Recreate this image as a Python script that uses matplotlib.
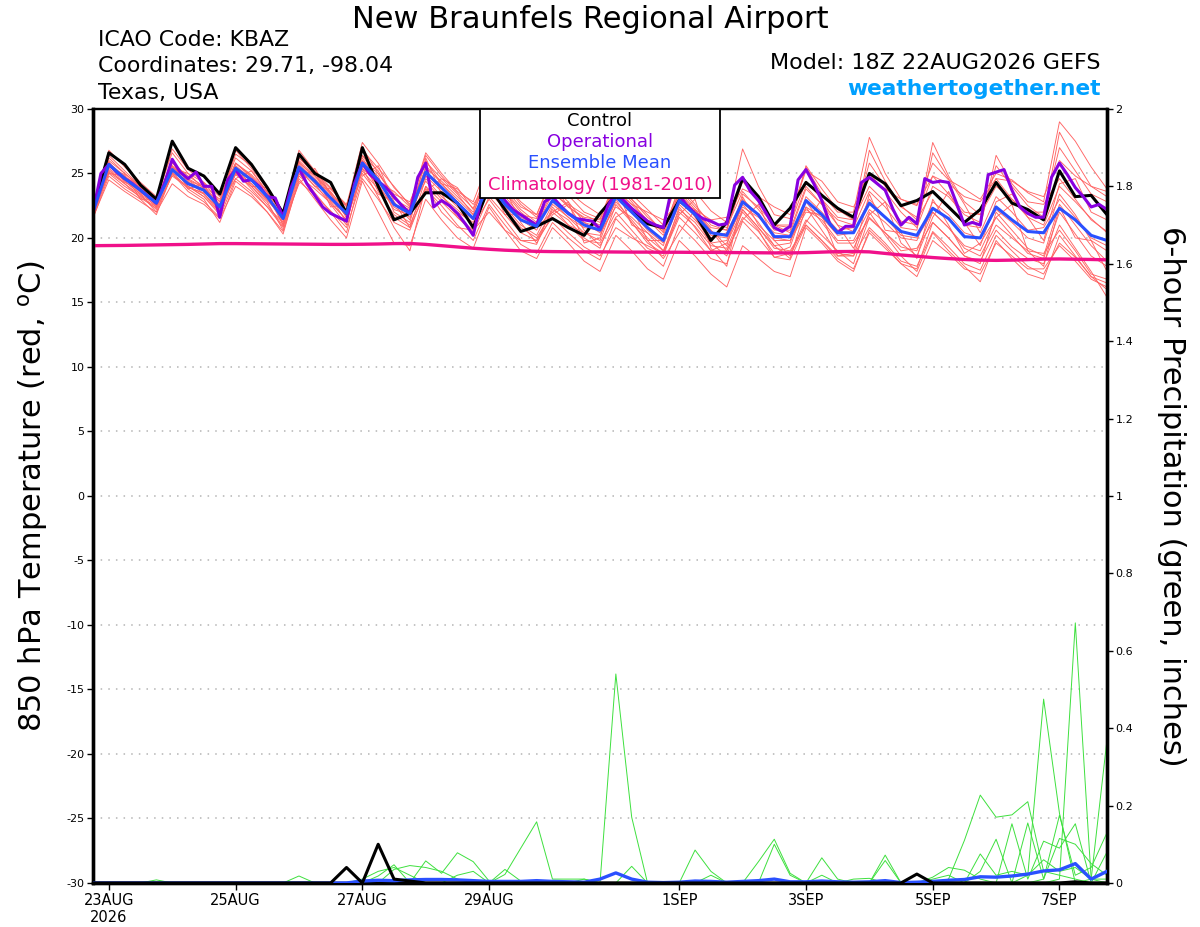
import numpy as np
import matplotlib
matplotlib.use("Agg")
import matplotlib.pyplot as plt
from matplotlib.patches import Rectangle

plt.rcParams['font.family'] = ['DejaVu Sans']
plt.rcParams['axes.unicode_minus'] = False

# 6-hourly times, 18Z 22AUG2026 -> 18Z 7SEP2026
t0 = np.datetime64('2026-08-22T18:00')
times = t0 + np.arange(65) * np.timedelta64(6, 'h')
times_op = t0 + np.arange(129) * np.timedelta64(3, 'h')

tick_dates = ['2026-08-23', '2026-08-25', '2026-08-27', '2026-08-29',
              '2026-09-01', '2026-09-03', '2026-09-05', '2026-09-07']
tick_labels = ['23AUG\n2026', '25AUG', '27AUG', '29AUG', '1SEP', '3SEP', '5SEP', '7SEP']

# 850 hPa temperature (C)
control_t = [22.2, 26.6, 25.7, 24.1, 23.0, 27.5, 25.4, 24.8, 23.4, 27.0, 25.7, 23.9,
             21.9, 26.5, 25.0, 24.3, 21.9, 27.0, 24.0, 21.4, 21.9, 23.5, 23.5, 22.7,
             20.8, 24.0, 22.2, 20.5, 20.9, 21.5, 20.8, 20.2, 21.9, 23.3, 22.2, 21.1,
             20.8, 22.9, 21.9, 19.8, 21.2, 24.6, 23.2, 21.0, 22.3, 24.3, 23.3, 22.3,
             21.6, 25.0, 24.2, 22.5, 22.9, 23.6, 22.4, 21.2, 22.2, 24.3, 22.7, 22.2,
             21.4, 25.2, 23.2, 23.3, 21.8]

mean_t = [22.0, 25.7, 24.6, 23.7, 22.7, 25.3, 24.2, 23.7, 22.4, 25.4, 24.5, 23.2,
          21.5, 25.5, 24.4, 23.1, 21.9, 25.8, 24.5, 22.6, 21.9, 25.1, 23.9, 22.7,
          21.5, 24.2, 22.6, 21.4, 20.9, 22.9, 21.9, 21.0, 20.6, 23.2, 22.0, 20.8,
          19.8, 22.9, 21.8, 20.4, 20.2, 22.8, 21.8, 20.1, 20.1, 22.9, 21.8, 20.4,
          20.4, 22.7, 21.6, 20.5, 20.2, 22.3, 21.5, 20.1, 20.0, 22.4, 21.4, 20.5,
          20.4, 22.3, 21.4, 20.2, 19.8]

oper_t = [22.0, 25.0, 25.7, 25.1, 24.6, 24.2, 23.7, 23.2,
          22.7, 24.2, 26.1, 25.1, 24.6, 25.1, 24.0, 24.0,
          21.6, 24.5, 25.3, 24.4, 24.5, 24.0, 23.2, 23.1,
          21.6, 23.9, 25.4, 24.2, 23.3, 22.4, 21.9, 21.6,
          21.3, 24.2, 25.8, 24.9, 24.4, 23.9, 23.2, 22.5,
          21.9, 24.7, 25.8, 22.4, 22.9, 22.5, 21.9, 21.1,
          20.2, 23.0, 24.8, 23.8, 22.9, 22.2, 21.8, 21.4,
          21.0, 22.8, 23.2, 22.5, 21.9, 21.5, 21.4, 21.3,
          20.7, 22.5, 23.5, 22.9, 22.3, 21.8, 21.3, 21.0,
          20.8, 23.7, 23.3, 22.5, 21.9, 21.5, 21.3, 21.0,
          21.1, 24.1, 24.7, 23.6, 22.9, 21.9, 20.8, 20.5,
          20.9, 24.5, 25.3, 24.2, 22.9, 21.1, 20.4, 20.9,
          20.9, 24.3, 24.7, 24.2, 23.7, 22.2, 21.0, 21.6,
          21.1, 24.6, 24.3, 24.4, 24.3, 22.7, 21.0, 21.2,
          21.0, 24.9, 25.1, 25.3, 23.7, 22.4, 21.9, 21.6,
          21.6, 24.7, 25.8, 24.9, 23.9, 23.2, 22.4, 22.6,
          22.2]

clim_t = [19.40, 19.41, 19.42, 19.44, 19.46, 19.48, 19.50, 19.53, 19.56, 19.56, 19.55,
          19.54, 19.53, 19.52, 19.51, 19.50, 19.50, 19.51, 19.53, 19.56, 19.57, 19.50,
          19.40, 19.30, 19.20, 19.12, 19.05, 19.00, 18.96, 18.94, 18.93, 18.92, 18.92,
          18.91, 18.90, 18.90, 18.89, 18.89, 18.88, 18.88, 18.87, 18.86, 18.85, 18.84,
          18.84, 18.86, 18.90, 18.94, 18.95, 18.92, 18.80, 18.68, 18.58, 18.48, 18.40,
          18.33, 18.28, 18.26, 18.28, 18.32, 18.36, 18.37, 18.35, 18.33, 18.30]

members_t = [
    [22.3, 26.8, 25.5, 24.3, 23.2, 26.6, 25.0, 24.3, 22.8, 26.5, 25.6, 24.0, 22.0, 26.2, 25.0, 23.8,
     22.5, 27.4, 25.8, 23.9, 22.6, 26.4, 24.8, 23.5, 22.3, 25.6, 24.2, 22.8, 21.8, 24.8, 23.3, 22.0,
     21.5, 24.6, 23.4, 22.2, 21.0, 25.0, 23.6, 22.1, 21.2, 26.9, 24.0, 21.8, 21.5, 25.5, 23.4, 22.0,
     22.0, 27.8, 25.0, 23.0, 22.5, 25.8, 24.5, 23.8, 23.0, 25.0, 24.5, 23.5, 22.8, 29.0, 27.5, 25.5, 23.8],
    [21.6, 24.5, 23.6, 22.8, 22.0, 24.2, 23.2, 22.6, 21.5, 24.0, 23.2, 22.0, 20.5, 24.4, 23.3, 22.1,
     20.8, 24.6, 23.0, 21.2, 20.6, 23.8, 22.5, 21.0, 19.8, 22.6, 21.0, 19.5, 18.8, 21.2, 20.0, 19.0,
     18.3, 21.5, 20.2, 18.9, 17.8, 21.0, 19.8, 18.4, 18.0, 21.3, 20.0, 18.5, 18.3, 21.0, 19.8, 18.6,
     18.6, 20.8, 19.6, 18.2, 17.8, 20.5, 19.3, 18.0, 17.5, 20.2, 19.0, 17.8, 17.2, 19.6, 18.5, 17.0, 16.5],
    [22.0, 25.2, 24.3, 23.8, 22.9, 25.6, 24.0, 23.2, 22.0, 25.8, 24.9, 23.6, 21.8, 26.8, 25.2, 23.9,
     22.4, 26.0, 25.0, 23.4, 22.8, 25.9, 24.6, 23.9, 22.2, 25.0, 23.5, 22.0, 21.0, 23.4, 22.6, 21.8,
     21.2, 24.2, 22.8, 21.3, 20.5, 23.5, 22.0, 20.6, 19.4, 23.4, 22.4, 21.0, 20.8, 25.6, 23.8, 22.2,
     21.4, 24.0, 22.8, 21.3, 21.0, 27.4, 24.8, 22.8, 21.8, 24.6, 23.0, 21.6, 21.0, 24.0, 22.8, 21.5, 20.4],
    [21.8, 25.0, 24.0, 23.2, 22.4, 24.8, 23.9, 23.5, 22.6, 24.9, 24.0, 22.8, 20.6, 24.8, 23.8, 22.7,
     21.4, 25.2, 23.8, 21.6, 20.8, 24.6, 23.2, 22.2, 21.0, 23.0, 21.4, 19.8, 19.8, 21.6, 20.4, 19.3,
     18.6, 20.8, 20.0, 19.4, 18.8, 22.4, 20.8, 19.0, 19.0, 21.6, 20.5, 18.8, 19.3, 22.8, 21.2, 19.6,
     19.6, 21.5, 20.4, 19.0, 19.2, 21.2, 20.0, 18.6, 18.2, 20.6, 19.3, 18.4, 18.0, 21.0, 19.2, 17.4, 15.4],
    [22.1, 26.0, 25.0, 23.9, 22.6, 25.8, 24.8, 24.0, 23.0, 26.2, 25.2, 23.5, 21.2, 25.8, 24.8, 23.6,
     22.0, 26.4, 25.2, 23.0, 22.3, 25.4, 24.4, 23.2, 22.0, 24.8, 23.2, 21.8, 21.5, 24.2, 22.4, 21.5,
     21.0, 23.8, 22.6, 21.4, 20.2, 23.6, 22.2, 20.8, 20.6, 24.5, 22.8, 21.0, 20.4, 23.8, 22.6, 21.4,
     21.0, 25.0, 23.6, 22.0, 20.8, 24.0, 23.2, 21.8, 21.2, 25.6, 24.0, 22.5, 21.6, 28.2, 26.0, 24.0, 23.2],
    [21.5, 24.8, 23.8, 23.0, 21.8, 25.0, 23.6, 22.8, 21.6, 24.6, 23.6, 22.4, 20.8, 25.0, 23.5, 22.0,
     20.4, 25.4, 23.2, 20.8, 19.0, 24.0, 22.0, 20.8, 20.6, 22.0, 20.6, 19.8, 19.5, 22.4, 21.0, 19.8,
     19.6, 22.0, 20.6, 19.2, 18.6, 22.0, 20.9, 19.4, 19.2, 22.0, 20.6, 18.5, 18.8, 21.4, 20.2, 19.0,
     18.0, 21.6, 20.4, 19.3, 19.0, 22.0, 20.8, 19.4, 19.0, 21.6, 20.2, 18.8, 18.4, 22.0, 20.3, 18.6, 17.8],
    [22.4, 26.4, 25.2, 24.0, 22.8, 26.9, 25.3, 24.3, 23.2, 25.8, 24.8, 23.4, 22.0, 26.2, 25.0, 23.5,
     22.2, 26.8, 25.4, 24.0, 22.5, 26.6, 25.0, 23.6, 22.8, 26.0, 24.2, 22.6, 21.6, 23.9, 22.8, 21.2,
     20.8, 24.8, 23.0, 21.6, 20.6, 23.8, 22.4, 21.2, 20.8, 23.6, 22.2, 20.6, 20.6, 24.0, 22.6, 21.0,
     20.5, 26.8, 24.4, 22.5, 21.4, 23.6, 22.5, 21.0, 20.8, 26.4, 24.2, 22.8, 22.6, 24.6, 23.0, 21.4, 20.5],
    [21.9, 25.4, 24.4, 23.4, 22.5, 25.2, 24.3, 23.8, 22.2, 25.0, 24.2, 23.0, 21.4, 25.3, 24.0, 22.9,
     21.8, 25.6, 24.0, 22.4, 21.6, 24.8, 23.6, 22.4, 21.4, 23.6, 22.2, 20.8, 20.0, 22.0, 21.0, 20.4,
     19.8, 23.0, 21.2, 19.6, 18.8, 21.6, 20.4, 19.0, 19.6, 22.2, 20.8, 19.2, 19.0, 21.0, 19.8, 18.4,
     17.6, 20.4, 19.2, 18.0, 17.0, 19.8, 18.8, 17.6, 17.2, 19.6, 18.6, 17.6, 17.6, 19.4, 18.2, 16.8, 16.2],
    [22.2, 25.8, 24.8, 23.6, 22.4, 25.5, 24.5, 23.6, 22.3, 25.6, 24.6, 23.3, 21.0, 25.2, 24.6, 23.4,
     21.6, 25.8, 24.8, 22.0, 21.2, 25.6, 24.2, 22.8, 21.6, 24.6, 22.8, 21.4, 20.6, 23.0, 22.0, 21.2,
     20.4, 22.4, 21.6, 20.4, 19.4, 23.2, 22.0, 20.2, 20.0, 22.4, 21.6, 20.4, 20.2, 22.2, 21.4, 19.8,
     19.8, 22.2, 21.2, 20.0, 19.8, 22.8, 21.8, 20.4, 20.0, 22.2, 21.2, 20.0, 19.6, 23.4, 21.8, 19.8, 19.0],
    [21.7, 25.6, 24.6, 23.5, 22.7, 25.4, 24.0, 23.4, 22.0, 25.2, 24.2, 22.9, 21.6, 25.7, 24.5, 23.2,
     21.2, 25.4, 24.2, 22.2, 21.8, 25.0, 23.8, 22.6, 20.8, 23.8, 22.4, 21.0, 20.2, 22.6, 21.6, 20.8,
     20.6, 23.4, 22.0, 20.6, 19.6, 22.6, 21.4, 20.0, 20.4, 23.0, 21.8, 20.0, 19.8, 22.4, 21.6, 20.2,
     20.4, 23.0, 21.6, 20.2, 20.0, 22.0, 20.8, 19.2, 18.6, 21.0, 20.0, 19.0, 18.8, 20.6, 19.0, 17.2, 16.8],
    [22.0, 26.2, 25.0, 24.0, 22.5, 26.0, 24.6, 23.9, 22.6, 26.8, 25.4, 23.8, 21.4, 26.0, 24.8, 23.4,
     22.0, 27.0, 25.0, 23.2, 22.0, 26.0, 24.2, 23.0, 21.8, 25.4, 23.6, 22.2, 21.2, 23.6, 22.4, 21.6,
     21.4, 24.4, 23.0, 21.8, 20.4, 24.0, 22.6, 21.0, 20.6, 24.4, 22.8, 21.0, 21.0, 24.4, 23.0, 21.6,
     21.4, 25.8, 24.0, 22.4, 21.6, 24.8, 23.4, 22.0, 21.8, 24.0, 23.0, 22.0, 22.0, 27.0, 25.2, 23.4, 22.8],
    [21.8, 25.3, 24.2, 23.3, 22.2, 24.9, 24.0, 23.2, 21.8, 25.0, 24.0, 22.6, 20.9, 25.6, 24.2, 22.6,
     21.0, 26.4, 24.6, 22.6, 22.2, 24.4, 23.0, 22.0, 21.2, 24.0, 22.6, 21.6, 21.0, 22.8, 21.6, 20.4,
     20.2, 22.8, 21.4, 20.0, 19.0, 22.2, 21.2, 19.6, 19.8, 22.6, 21.2, 19.4, 19.6, 23.2, 22.0, 20.6,
     20.8, 23.6, 22.4, 20.8, 20.6, 26.6, 24.6, 22.6, 20.4, 23.2, 22.0, 20.6, 20.8, 23.0, 21.6, 20.0, 19.4],
    [22.5, 25.9, 24.4, 23.4, 22.0, 25.1, 23.8, 23.0, 21.2, 24.4, 23.4, 22.0, 20.3, 24.6, 23.0, 21.4,
     20.0, 24.4, 22.0, 19.6, 19.4, 23.0, 21.4, 20.0, 19.2, 22.4, 20.6, 19.0, 18.4, 20.8, 19.6, 18.2,
     17.4, 20.2, 19.0, 17.6, 16.8, 19.8, 18.6, 17.2, 16.2, 19.4, 18.4, 17.4, 17.0, 20.8, 19.6, 18.2,
     17.4, 20.6, 19.4, 18.0, 17.6, 21.2, 20.0, 18.6, 18.0, 22.0, 20.6, 19.2, 18.6, 22.6, 21.0, 19.4, 18.2],
    [22.3, 25.0, 24.8, 23.9, 22.9, 25.4, 25.0, 23.8, 22.5, 24.6, 25.2, 23.6, 21.0, 24.2, 25.4, 23.4,
     21.6, 24.8, 25.6, 22.8, 20.8, 23.6, 24.6, 23.4, 21.8, 23.4, 23.8, 21.2, 19.6, 21.8, 22.6, 20.6,
     19.4, 21.6, 22.4, 19.8, 18.4, 20.4, 22.2, 20.6, 19.0, 21.4, 22.6, 19.8, 18.6, 21.2, 23.0, 21.0,
     19.2, 21.8, 22.8, 19.6, 18.6, 21.6, 23.6, 21.2, 19.4, 22.8, 23.4, 21.6, 19.8, 24.2, 24.6, 22.0, 21.4],
    [21.9, 25.5, 24.9, 23.0, 23.0, 25.9, 23.8, 24.2, 21.8, 25.6, 24.0, 23.9, 21.6, 24.9, 25.2, 22.4,
     22.6, 25.0, 23.4, 22.8, 21.4, 26.2, 23.4, 21.6, 20.6, 24.4, 21.8, 21.8, 20.8, 22.0, 22.8, 19.6,
     20.0, 24.0, 21.0, 20.4, 19.0, 21.8, 23.0, 19.2, 17.8, 23.2, 21.0, 19.8, 19.8, 22.0, 21.8, 18.6,
     18.8, 23.4, 20.6, 20.4, 18.4, 23.0, 21.0, 18.8, 19.6, 21.6, 22.6, 19.0, 17.8, 22.4, 20.0, 19.8, 17.4],
    [22.1, 25.6, 24.7, 24.1, 22.6, 25.0, 24.5, 23.9, 22.8, 25.8, 24.7, 23.1, 21.9, 25.4, 24.0, 23.8,
     22.6, 26.2, 24.3, 23.6, 22.4, 24.8, 24.2, 23.8, 22.6, 24.4, 23.8, 22.4, 21.8, 24.6, 23.6, 22.6,
     21.8, 23.6, 22.6, 22.0, 21.4, 22.8, 22.2, 21.4, 21.6, 23.8, 23.2, 22.4, 21.8, 25.2, 24.4, 22.8,
     22.4, 24.6, 23.8, 23.0, 22.6, 24.8, 24.2, 23.2, 22.8, 24.6, 24.4, 23.6, 23.2, 26.0, 24.8, 24.0, 23.6],
    [21.6, 25.1, 24.2, 23.1, 22.3, 25.6, 24.4, 23.4, 22.2, 25.1, 23.8, 22.4, 21.2, 25.9, 24.6, 22.8,
     21.4, 26.0, 23.6, 21.8, 21.0, 24.0, 22.8, 21.6, 20.4, 23.2, 21.8, 20.4, 19.8, 22.2, 21.4, 20.0,
     19.2, 22.6, 21.2, 19.8, 19.8, 23.4, 21.6, 19.6, 18.6, 22.2, 20.8, 19.4, 18.4, 22.4, 20.6, 18.8,
     18.6, 22.0, 20.2, 18.6, 17.4, 20.4, 19.0, 17.8, 16.6, 19.8, 18.4, 17.2, 16.8, 20.2, 18.6, 17.0, 16.0],
]

# 6-hour precipitation (inches)
control_p = [0, 0, 0, 0, 0, 0, 0, 0, 0, 0, 0, 0, 0,
             0, 0, 0, 0.04, 0, 0.10, 0.01, 0.005, 0, 0, 0, 0, 0,
             0, 0, 0, 0, 0, 0, 0, 0, 0, 0, 0, 0, 0,
             0, 0, 0, 0, 0, 0, 0, 0, 0, 0, 0, 0, 0,
             0.023, 0, 0, 0, 0, 0, 0, 0, 0, 0, 0.003, 0, 0]

mean_p = [0, 0, 0, 0, 0, 0, 0, 0, 0, 0, 0, 0, 0,
          0, 0, 0, 0, 0.005, 0.007, 0.006, 0.008, 0.009, 0.009, 0.008, 0.006, 0.004,
          0.004, 0.004, 0.006, 0.004, 0.003, 0.002, 0.01, 0.026, 0.01, 0.002, 0.001, 0.002, 0.005,
          0.004, 0.002, 0.004, 0.006, 0.01, 0.003, 0.003, 0.005, 0.003, 0.002, 0.003, 0.006, 0.001,
          0.002, 0.004, 0.007, 0.009, 0.016, 0.015, 0.018, 0.023, 0.031, 0.034, 0.05, 0.01, 0.03]

members_p = [
    [0, 0, 0, 0, 0.008, 0, 0, 0, 0, 0, 0, 0, 0,
     0, 0, 0, 0, 0, 0.018, 0.047, 0, 0.057, 0.025, 0.078, 0.055, 0.005,
     0, 0, 0, 0, 0, 0, 0, 0, 0, 0, 0, 0, 0.085,
     0.03, 0, 0, 0, 0, 0, 0, 0, 0, 0, 0, 0, 0,
     0, 0, 0.01, 0.11, 0.227, 0.17, 0.176, 0.21, 0.03, 0.02, 0.01, 0, 0],
    [0, 0, 0, 0, 0, 0, 0, 0, 0, 0, 0, 0, 0,
     0.018, 0, 0, 0, 0, 0, 0.035, 0.045, 0.04, 0.03, 0.01, 0, 0,
     0, 0, 0, 0, 0, 0, 0, 0.54, 0.17, 0, 0, 0, 0,
     0, 0, 0, 0.055, 0.113, 0.025, 0, 0, 0, 0, 0, 0, 0,
     0, 0, 0, 0, 0, 0, 0, 0.02, 0.475, 0.18, 0, 0.01, 0],
    [0, 0, 0, 0, 0, 0, 0, 0, 0, 0, 0, 0, 0,
     0, 0, 0, 0, 0, 0, 0, 0, 0, 0, 0, 0, 0,
     0.022, 0.09, 0.158, 0.01, 0.01, 0.01, 0, 0, 0.043, 0, 0, 0, 0,
     0, 0, 0, 0, 0.1, 0.02, 0, 0, 0, 0, 0, 0.072, 0,
     0, 0, 0, 0, 0, 0, 0, 0, 0, 0.01, 0.672, 0.01, 0.01],
    [0, 0, 0, 0, 0, 0, 0, 0, 0, 0, 0, 0, 0,
     0, 0, 0, 0, 0, 0, 0, 0, 0, 0, 0.02, 0.03, 0,
     0.035, 0.005, 0, 0, 0, 0, 0, 0, 0, 0, 0, 0, 0,
     0.02, 0, 0, 0, 0, 0, 0, 0.065, 0.01, 0, 0, 0.058, 0,
     0, 0, 0, 0, 0.03, 0.113, 0, 0.155, 0.01, 0.175, 0.02, 0.04, 0.13],
    [0, 0, 0, 0, 0, 0, 0, 0, 0, 0, 0, 0, 0,
     0, 0, 0, 0, 0, 0, 0, 0, 0, 0, 0, 0, 0,
     0, 0, 0, 0, 0, 0, 0, 0, 0, 0, 0, 0, 0,
     0, 0, 0, 0, 0, 0, 0, 0.02, 0, 0.01, 0.012, 0, 0,
     0, 0.015, 0.04, 0.033, 0.01, 0, 0.153, 0.01, 0.108, 0.09, 0.153, 0, 0.08],
    [0, 0, 0, 0, 0, 0, 0, 0, 0, 0, 0, 0, 0,
     0, 0, 0, 0, 0, 0, 0, 0, 0, 0, 0, 0, 0,
     0, 0, 0, 0, 0, 0.01, 0, 0, 0, 0, 0, 0, 0,
     0, 0, 0, 0, 0, 0, 0, 0, 0, 0, 0, 0, 0,
     0, 0.01, 0.02, 0, 0.075, 0.02, 0.03, 0.02, 0.06, 0.03, 0.04, 0.01, 0.37],
    [0, 0, 0, 0, 0, 0, 0, 0, 0, 0, 0, 0, 0,
     0, 0, 0, 0, 0.01, 0.03, 0.04, 0.02, 0, 0, 0, 0, 0,
     0, 0, 0, 0, 0, 0, 0, 0, 0, 0, 0, 0, 0,
     0, 0, 0, 0, 0, 0, 0, 0, 0, 0, 0, 0, 0,
     0, 0, 0, 0, 0, 0, 0, 0, 0.01, 0.115, 0.1, 0.05, 0.02],
]

red = '#ff6464'
green = '#3ee03e'
purple = '#8800e0'
blue = '#2a50ff'
pink = '#f0108a'

fig = plt.figure(figsize=(12, 9.27), dpi=100)
ax = fig.add_axes([0.0775, 0.0475, 0.845, 0.835])
ax2 = ax.twinx()

for m in members_t:
    ax.plot(times, m, color=red, lw=0.65, zorder=2)
ax.plot(times, clim_t, color=pink, lw=2.4, zorder=3)
ax.plot(times, control_t, color='black', lw=2.2, zorder=4)
ax.plot(times_op, oper_t, color=purple, lw=2.2, zorder=5)
ax.plot(times, mean_t, color=blue, lw=2.2, zorder=6)

for m in members_p:
    ax2.plot(times, m, color=green, lw=0.7, zorder=2)
ax2.plot(times, mean_p, color=blue, lw=2.4, zorder=3)
ax2.plot(times, control_p, color='black', lw=2.2, zorder=4)

ax.set_xlim(times[0], times[-1])
ax.set_ylim(-30, 30)
ax2.set_ylim(0, 2)
ax.set_yticks(np.arange(-30, 31, 5))
ax2.set_yticks(np.arange(0, 2.01, 0.2))
ax2.set_yticklabels(['%g' % round(v, 1) for v in np.arange(0, 2.01, 0.2)])
ax.set_xticks([np.datetime64(d) for d in tick_dates])
ax.set_xticklabels(tick_labels)

for y in range(-25, 30, 5):
    ax.axhline(y, color='#b4b4b4', lw=1.1, ls=(0, (1, 4)), zorder=1)

ax.tick_params(axis='y', labelsize=8, length=4, width=1, direction='out', pad=2)
ax2.tick_params(axis='y', labelsize=8, length=4, width=1, direction='out', pad=2)
ax.tick_params(axis='x', labelsize=10.5, length=5, width=1, direction='out', pad=2)

for a in (ax, ax2):
    for side in ('left', 'right', 'bottom'):
        a.spines[side].set_linewidth(2.4)
    a.spines['top'].set_linewidth(1.6)

ax.set_ylabel('850 hPa Temperature (red, $^{\\rm o}$C)', fontsize=22, labelpad=12)
ax2.set_ylabel('6-hour Precipitation (green, inches)', fontsize=22, rotation=-90, labelpad=38)

# legend box
ax2.add_patch(Rectangle((0.3817, 0.885), 0.2366, 0.115, transform=ax.transAxes,
                        facecolor='white', edgecolor='black', lw=1.3, zorder=10, clip_on=False))
leg_items = [('Control', 'black'), ('Operational', purple),
             ('Ensemble Mean', blue), ('Climatology (1981-2010)', pink)]
for k, (txt, col) in enumerate(leg_items):
    ax2.text(0.5, 0.9845 - k * 0.0275, txt, color=col, fontsize=13, ha='center', va='center',
             transform=ax.transAxes, zorder=11)

fig.text(0.492, 0.979, 'New Braunfels Regional Airport', fontsize=22, ha='center', va='center')
fig.text(0.0815, 0.957, 'ICAO Code: KBAZ', fontsize=15.8, va='center')
fig.text(0.0815, 0.929, 'Coordinates: 29.71, -98.04', fontsize=15.8, va='center')
fig.text(0.0815, 0.900, 'Texas, USA', fontsize=15.8, va='center')
fig.text(0.9175, 0.932, 'Model: 18Z 22AUG2026 GEFS', fontsize=16, ha='right', va='center')
fig.text(0.9175, 0.904, 'weathertogether.net', fontsize=15.7, ha='right', va='center',
         color='#00a0ff', fontweight='bold')

fig.savefig('out.png', dpi=100)
